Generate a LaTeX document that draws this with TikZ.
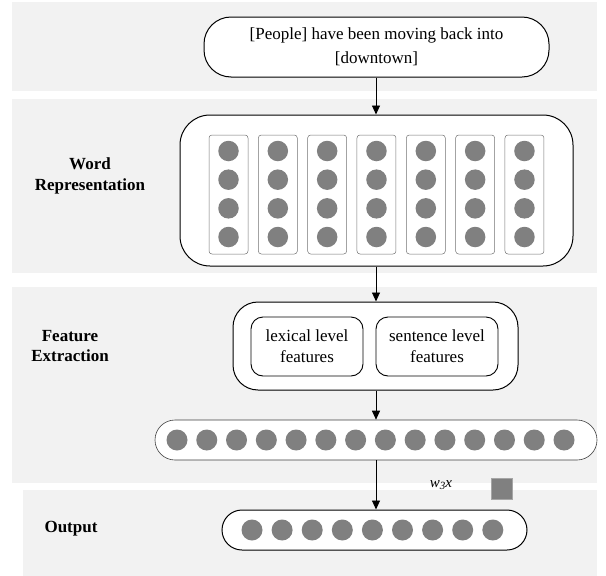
\documentclass[tikz,border=0pt]{standalone}
\usepackage{fontspec}
\setmainfont{Liberation Serif}
\usetikzlibrary{arrows.meta}
\definecolor{panelgray}{HTML}{F2F2F2}
\definecolor{dotgray}{HTML}{808080}
\tikzset{
  panel/.style={fill=panelgray, draw=none},
  bigbox/.style={draw=black, line width=1pt, fill=white, inner sep=0pt},
  colbox/.style={draw=black!55, line width=0.5pt, fill=white, rounded corners=3pt, minimum width=39pt, minimum height=119pt, inner sep=0pt},
  dot/.style={circle, fill=dotgray, draw=none, minimum size=20.5pt, inner sep=0pt},
  lbl/.style={font=\fontsize{17}{20.5}\selectfont\bfseries, align=center},
  txt/.style={align=center, font=\fontsize{17}{21}\selectfont},
  arr/.style={-{Triangle[length=9pt,width=8pt]}, line width=0.9pt},
}
\begin{document}
\begin{tikzpicture}[x=1pt,y=-1pt]
\useasboundingbox (0,0) rectangle (606,576);
% panels
\fill[panel] (12,2) rectangle (597,91);
\fill[panel] (12,99) rectangle (597,273);
\fill[panel] (12,287) rectangle (597,483);
\fill[panel] (23,490) rectangle (597,576);
% input
\node[bigbox, rounded corners=27pt, minimum width=345pt, minimum height=60pt, align=center,
      font=\fontsize{17}{24}\selectfont] (input) at (376.5,47) {[People] have been moving back into\\{}[downtown]};
% word representation
\node[bigbox, rounded corners=30pt, minimum width=393pt, minimum height=151pt] (wordrep) at (376.5,190.5) {};
\foreach \k in {0,...,6} {
  \node[colbox] (col\k) at ({228.5+49.33*\k},194.5) {};
  \foreach \j in {0,...,3} {
    \node[dot] (w\k\j) at ({228.5+49.33*\k},{151+28.67*\j}) {};
  }
}
\node[lbl] (lwr) at (90,176) {Word\\Representation};
% feature extraction
\node[bigbox, rounded corners=25pt, minimum width=285pt, minimum height=88pt] (feat) at (375.5,346) {};
\node[draw=black, line width=0.9pt, fill=white, rounded corners=12pt, minimum width=112pt, minimum height=59pt, inner sep=0pt, txt] (lex) at (307,346.5) {lexical level\\features};
\node[draw=black, line width=0.9pt, fill=white, rounded corners=12pt, minimum width=122pt, minimum height=59pt, inner sep=0pt, txt] (sen) at (437,346.5) {sentence level\\features};
\node[lbl] (lfe) at (70,346) {Feature\\Extraction};
% feature vector
\node[draw=black!75, line width=0.6pt, fill=white, rounded corners=20pt, minimum width=442pt, minimum height=40pt, inner sep=0pt] (fvec) at (376,440) {};
\foreach \k in {0,...,13} {
  \node[dot, minimum size=21pt] (f\k) at ({177+29.77*\k},440) {};
}
% output
\node[bigbox, rounded corners=20pt, minimum width=305pt, minimum height=40pt] (out) at (374.5,530) {};
\foreach \k in {0,...,8} {
  \node[dot, minimum size=21pt] (o\k) at ({252+30.1*\k},530) {};
}
\node[lbl] (lout) at (71,529) {Output};
% w3x and square
\node[font=\fontsize{15}{17}\selectfont\itshape] (w3x) at (441,485) {w\raisebox{-2.5pt}{\fontsize{11}{12}\selectfont 3}x};
\node[fill=dotgray, draw=black!35, line width=0.5pt, minimum size=21pt, inner sep=0pt] (sq) at (501.5,488.5) {};
% arrows
\coordinate (ax) at (376,0);
\draw[arr] (ax |- input.south) -- (ax |- wordrep.north);
\draw[arr] (ax |- wordrep.south) -- (ax |- feat.north);
\draw[arr] (ax |- feat.south) -- (ax |- fvec.north);
\draw[arr] (ax |- fvec.south) -- (ax |- out.north);
\end{tikzpicture}
\end{document}
